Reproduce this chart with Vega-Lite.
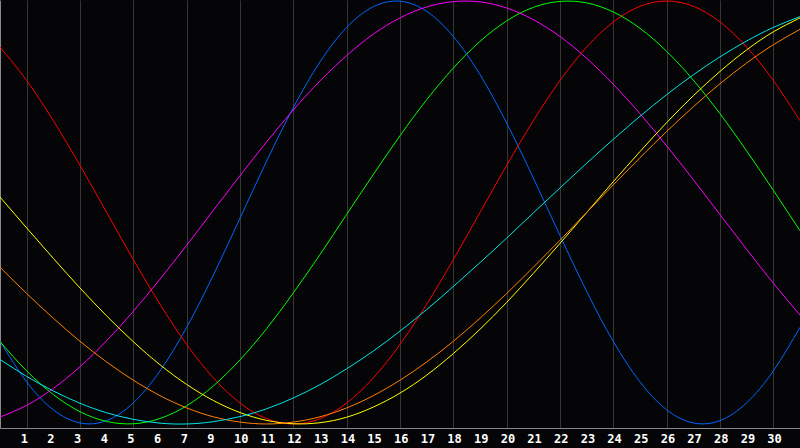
{
  "$schema": "https://vega.github.io/schema/vega-lite/v6.json",
  "description": "Biorhythm curves over 30 days.",
  "width": 800,
  "height": 428,
  "autosize": {"type": "none"},
  "padding": {"left": 0, "top": 0, "right": 0, "bottom": 20},
  "background": "#050508",
  "config": {"view": {"stroke": null}},
  "datasets": {
    "curves": [
      {"c":0,"v":-0.609,"s":"Physical"},{"c":1,"v":-0.801,"s":"Physical"},{"c":2,"v":-0.933,"s":"Physical"},{"c":3,"v":-0.995,"s":"Physical"},{"c":4,"v":-0.984,"s":"Physical"},{"c":5,"v":-0.900,"s":"Physical"},{"c":6,"v":-0.749,"s":"Physical"},{"c":7,"v":-0.543,"s":"Physical"},{"c":8,"v":-0.296,"s":"Physical"},{"c":9,"v":-0.027,"s":"Physical"},{"c":10,"v":0.243,"s":"Physical"},{"c":11,"v":0.496,"s":"Physical"},{"c":12,"v":0.712,"s":"Physical"},{"c":13,"v":0.875,"s":"Physical"},{"c":14,"v":0.973,"s":"Physical"},{"c":15,"v":0.999,"s":"Physical"},{"c":16,"v":0.951,"s":"Physical"},{"c":17,"v":0.832,"s":"Physical"},{"c":18,"v":0.652,"s":"Physical"},{"c":19,"v":0.423,"s":"Physical"},{"c":20,"v":0.163,"s":"Physical"},{"c":21,"v":-0.109,"s":"Physical"},{"c":22,"v":-0.373,"s":"Physical"},{"c":23,"v":-0.610,"s":"Physical"},{"c":24,"v":-0.801,"s":"Physical"},{"c":25,"v":-0.933,"s":"Physical"},{"c":26,"v":-0.995,"s":"Physical"},{"c":27,"v":-0.984,"s":"Physical"},{"c":28,"v":-0.900,"s":"Physical"},{"c":29,"v":-0.749,"s":"Physical"},{"c":30,"v":-0.543,"s":"Physical"},
      {"c":0,"v":0.782,"s":"Emotional"},{"c":1,"v":0.624,"s":"Emotional"},{"c":2,"v":0.434,"s":"Emotional"},{"c":3,"v":0.223,"s":"Emotional"},{"c":4,"v":0,"s":"Emotional"},{"c":5,"v":-0.223,"s":"Emotional"},{"c":6,"v":-0.434,"s":"Emotional"},{"c":7,"v":-0.624,"s":"Emotional"},{"c":8,"v":-0.782,"s":"Emotional"},{"c":9,"v":-0.901,"s":"Emotional"},{"c":10,"v":-0.975,"s":"Emotional"},{"c":11,"v":-1,"s":"Emotional"},{"c":12,"v":-0.975,"s":"Emotional"},{"c":13,"v":-0.901,"s":"Emotional"},{"c":14,"v":-0.782,"s":"Emotional"},{"c":15,"v":-0.624,"s":"Emotional"},{"c":16,"v":-0.434,"s":"Emotional"},{"c":17,"v":-0.223,"s":"Emotional"},{"c":18,"v":0,"s":"Emotional"},{"c":19,"v":0.223,"s":"Emotional"},{"c":20,"v":0.434,"s":"Emotional"},{"c":21,"v":0.624,"s":"Emotional"},{"c":22,"v":0.782,"s":"Emotional"},{"c":23,"v":0.901,"s":"Emotional"},{"c":24,"v":0.975,"s":"Emotional"},{"c":25,"v":1,"s":"Emotional"},{"c":26,"v":0.975,"s":"Emotional"},{"c":27,"v":0.901,"s":"Emotional"},{"c":28,"v":0.782,"s":"Emotional"},{"c":29,"v":0.624,"s":"Emotional"},{"c":30,"v":0.434,"s":"Emotional"},
      {"c":0,"v":-0.611,"s":"Intellectual"},{"c":1,"v":-0.749,"s":"Intellectual"},{"c":2,"v":-0.861,"s":"Intellectual"},{"c":3,"v":-0.942,"s":"Intellectual"},{"c":4,"v":-0.988,"s":"Intellectual"},{"c":5,"v":-0.999,"s":"Intellectual"},{"c":6,"v":-0.974,"s":"Intellectual"},{"c":7,"v":-0.914,"s":"Intellectual"},{"c":8,"v":-0.820,"s":"Intellectual"},{"c":9,"v":-0.697,"s":"Intellectual"},{"c":10,"v":-0.549,"s":"Intellectual"},{"c":11,"v":-0.380,"s":"Intellectual"},{"c":12,"v":-0.199,"s":"Intellectual"},{"c":13,"v":-0.009,"s":"Intellectual"},{"c":14,"v":0.180,"s":"Intellectual"},{"c":15,"v":0.363,"s":"Intellectual"},{"c":16,"v":0.533,"s":"Intellectual"},{"c":17,"v":0.683,"s":"Intellectual"},{"c":18,"v":0.809,"s":"Intellectual"},{"c":19,"v":0.906,"s":"Intellectual"},{"c":20,"v":0.970,"s":"Intellectual"},{"c":21,"v":0.998,"s":"Intellectual"},{"c":22,"v":0.991,"s":"Intellectual"},{"c":23,"v":0.948,"s":"Intellectual"},{"c":24,"v":0.871,"s":"Intellectual"},{"c":25,"v":0.762,"s":"Intellectual"},{"c":26,"v":0.626,"s":"Intellectual"},{"c":27,"v":0.467,"s":"Intellectual"},{"c":28,"v":0.291,"s":"Intellectual"},{"c":29,"v":0.105,"s":"Intellectual"},{"c":30,"v":-0.086,"s":"Intellectual"},
      {"c":0,"v":-0.967,"s":"Intuitive"},{"c":1,"v":-0.912,"s":"Intuitive"},{"c":2,"v":-0.832,"s":"Intuitive"},{"c":3,"v":-0.729,"s":"Intuitive"},{"c":4,"v":-0.606,"s":"Intuitive"},{"c":5,"v":-0.467,"s":"Intuitive"},{"c":6,"v":-0.315,"s":"Intuitive"},{"c":7,"v":-0.155,"s":"Intuitive"},{"c":8,"v":0.010,"s":"Intuitive"},{"c":9,"v":0.174,"s":"Intuitive"},{"c":10,"v":0.334,"s":"Intuitive"},{"c":11,"v":0.485,"s":"Intuitive"},{"c":12,"v":0.622,"s":"Intuitive"},{"c":13,"v":0.742,"s":"Intuitive"},{"c":14,"v":0.843,"s":"Intuitive"},{"c":15,"v":0.920,"s":"Intuitive"},{"c":16,"v":0.972,"s":"Intuitive"},{"c":17,"v":0.997,"s":"Intuitive"},{"c":18,"v":0.996,"s":"Intuitive"},{"c":19,"v":0.967,"s":"Intuitive"},{"c":20,"v":0.912,"s":"Intuitive"},{"c":21,"v":0.832,"s":"Intuitive"},{"c":22,"v":0.729,"s":"Intuitive"},{"c":23,"v":0.606,"s":"Intuitive"},{"c":24,"v":0.467,"s":"Intuitive"},{"c":25,"v":0.315,"s":"Intuitive"},{"c":26,"v":0.155,"s":"Intuitive"},{"c":27,"v":-0.010,"s":"Intuitive"},{"c":28,"v":-0.174,"s":"Intuitive"},{"c":29,"v":-0.334,"s":"Intuitive"},{"c":30,"v":-0.485,"s":"Intuitive"},
      {"c":0,"v":0.073,"s":"Aesthetic"},{"c":1,"v":-0.073,"s":"Aesthetic"},{"c":2,"v":-0.217,"s":"Aesthetic"},{"c":3,"v":-0.357,"s":"Aesthetic"},{"c":4,"v":-0.489,"s":"Aesthetic"},{"c":5,"v":-0.611,"s":"Aesthetic"},{"c":6,"v":-0.720,"s":"Aesthetic"},{"c":7,"v":-0.813,"s":"Aesthetic"},{"c":8,"v":-0.889,"s":"Aesthetic"},{"c":9,"v":-0.946,"s":"Aesthetic"},{"c":10,"v":-0.983,"s":"Aesthetic"},{"c":11,"v":-0.999,"s":"Aesthetic"},{"c":12,"v":-0.994,"s":"Aesthetic"},{"c":13,"v":-0.968,"s":"Aesthetic"},{"c":14,"v":-0.920,"s":"Aesthetic"},{"c":15,"v":-0.854,"s":"Aesthetic"},{"c":16,"v":-0.769,"s":"Aesthetic"},{"c":17,"v":-0.667,"s":"Aesthetic"},{"c":18,"v":-0.552,"s":"Aesthetic"},{"c":19,"v":-0.425,"s":"Aesthetic"},{"c":20,"v":-0.288,"s":"Aesthetic"},{"c":21,"v":-0.146,"s":"Aesthetic"},{"c":22,"v":0,"s":"Aesthetic"},{"c":23,"v":0.146,"s":"Aesthetic"},{"c":24,"v":0.288,"s":"Aesthetic"},{"c":25,"v":0.425,"s":"Aesthetic"},{"c":26,"v":0.552,"s":"Aesthetic"},{"c":27,"v":0.667,"s":"Aesthetic"},{"c":28,"v":0.769,"s":"Aesthetic"},{"c":29,"v":0.854,"s":"Aesthetic"},{"c":30,"v":0.920,"s":"Aesthetic"},
      {"c":0,"v":-0.259,"s":"Awareness"},{"c":1,"v":-0.383,"s":"Awareness"},{"c":2,"v":-0.5,"s":"Awareness"},{"c":3,"v":-0.609,"s":"Awareness"},{"c":4,"v":-0.707,"s":"Awareness"},{"c":5,"v":-0.793,"s":"Awareness"},{"c":6,"v":-0.866,"s":"Awareness"},{"c":7,"v":-0.924,"s":"Awareness"},{"c":8,"v":-0.966,"s":"Awareness"},{"c":9,"v":-0.991,"s":"Awareness"},{"c":10,"v":-1,"s":"Awareness"},{"c":11,"v":-0.991,"s":"Awareness"},{"c":12,"v":-0.966,"s":"Awareness"},{"c":13,"v":-0.924,"s":"Awareness"},{"c":14,"v":-0.866,"s":"Awareness"},{"c":15,"v":-0.793,"s":"Awareness"},{"c":16,"v":-0.707,"s":"Awareness"},{"c":17,"v":-0.609,"s":"Awareness"},{"c":18,"v":-0.5,"s":"Awareness"},{"c":19,"v":-0.383,"s":"Awareness"},{"c":20,"v":-0.259,"s":"Awareness"},{"c":21,"v":-0.131,"s":"Awareness"},{"c":22,"v":0,"s":"Awareness"},{"c":23,"v":0.131,"s":"Awareness"},{"c":24,"v":0.259,"s":"Awareness"},{"c":25,"v":0.383,"s":"Awareness"},{"c":26,"v":0.5,"s":"Awareness"},{"c":27,"v":0.609,"s":"Awareness"},{"c":28,"v":0.707,"s":"Awareness"},{"c":29,"v":0.793,"s":"Awareness"},{"c":30,"v":0.866,"s":"Awareness"},
      {"c":0,"v":-0.695,"s":"Spiritual"},{"c":1,"v":-0.775,"s":"Spiritual"},{"c":2,"v":-0.844,"s":"Spiritual"},{"c":3,"v":-0.902,"s":"Spiritual"},{"c":4,"v":-0.947,"s":"Spiritual"},{"c":5,"v":-0.978,"s":"Spiritual"},{"c":6,"v":-0.996,"s":"Spiritual"},{"c":7,"v":-1.0,"s":"Spiritual"},{"c":8,"v":-0.989,"s":"Spiritual"},{"c":9,"v":-0.965,"s":"Spiritual"},{"c":10,"v":-0.928,"s":"Spiritual"},{"c":11,"v":-0.877,"s":"Spiritual"},{"c":12,"v":-0.814,"s":"Spiritual"},{"c":13,"v":-0.739,"s":"Spiritual"},{"c":14,"v":-0.655,"s":"Spiritual"},{"c":15,"v":-0.561,"s":"Spiritual"},{"c":16,"v":-0.459,"s":"Spiritual"},{"c":17,"v":-0.350,"s":"Spiritual"},{"c":18,"v":-0.237,"s":"Spiritual"},{"c":19,"v":-0.121,"s":"Spiritual"},{"c":20,"v":-0.002,"s":"Spiritual"},{"c":21,"v":0.116,"s":"Spiritual"},{"c":22,"v":0.233,"s":"Spiritual"},{"c":23,"v":0.346,"s":"Spiritual"},{"c":24,"v":0.455,"s":"Spiritual"},{"c":25,"v":0.557,"s":"Spiritual"},{"c":26,"v":0.651,"s":"Spiritual"},{"c":27,"v":0.736,"s":"Spiritual"},{"c":28,"v":0.811,"s":"Spiritual"},{"c":29,"v":0.875,"s":"Spiritual"},{"c":30,"v":0.926,"s":"Spiritual"}
    ],
    "days": [
      {"c":1,"label":"1"},{"c":2,"label":"2"},{"c":3,"label":"3"},{"c":4,"label":"4"},{"c":5,"label":"5"},{"c":6,"label":"6"},{"c":7,"label":"7"},{"c":8,"label":"9"},{"c":9,"label":"10"},{"c":10,"label":"11"},{"c":11,"label":"12"},{"c":12,"label":"13"},{"c":13,"label":"14"},{"c":14,"label":"15"},{"c":15,"label":"16"},{"c":16,"label":"17"},{"c":17,"label":"18"},{"c":18,"label":"19"},{"c":19,"label":"20"},{"c":20,"label":"21"},{"c":21,"label":"22"},{"c":22,"label":"23"},{"c":23,"label":"24"},{"c":24,"label":"25"},{"c":25,"label":"26"},{"c":26,"label":"27"},{"c":27,"label":"28"},{"c":28,"label":"29"},{"c":29,"label":"30"}
    ]
  },
  "layer": [
    {
      "data": {"name": "curves"},
      "mark": {"type": "line", "strokeWidth": 1, "interpolate": "natural"},
      "encoding": {
        "x": {
          "field": "c",
          "type": "quantitative",
          "scale": {"domain": [0, 30], "nice": false},
          "axis": {
            "title": null,
            "values": [1,2,3,4,5,6,7,8,9,10,11,12,13,14,15,16,17,18,19,20,21,22,23,24,25,26,27,28,29],
            "labels": false,
            "ticks": false,
            "grid": true,
            "gridColor": "#363636",
            "gridWidth": 1,
            "domain": true,
            "domainColor": "#8a8a8a"
          }
        },
        "y": {
          "field": "v",
          "type": "quantitative",
          "scale": {"domain": [-1.019, 1.0047], "nice": false, "zero": false},
          "axis": {
            "title": null,
            "labels": false,
            "ticks": false,
            "grid": false,
            "domain": true,
            "domainColor": "#8a8a8a"
          }
        },
        "color": {
          "field": "s",
          "type": "nominal",
          "scale": {
            "domain": ["Physical", "Emotional", "Intellectual", "Intuitive", "Aesthetic", "Awareness", "Spiritual"],
            "range": ["#0066ff", "#ff0000", "#00ff00", "#ff00ff", "#ffff00", "#ff8000", "#00e6e6"]
          },
          "legend": null
        }
      }
    },
    {
      "mark": {"type": "rule", "color": "#ffffff", "strokeWidth": 1},
      "encoding": {"x": {"datum": 15, "type": "quantitative"}}
    },
    {
      "mark": {"type": "rule", "color": "#ffffff", "strokeWidth": 1},
      "encoding": {"y": {"datum": 0, "type": "quantitative"}}
    },
    {
      "mark": {"type": "rule", "color": "#8a8a8a", "strokeWidth": 1},
      "encoding": {"y": {"datum": 1.0023, "type": "quantitative"}}
    },
    {
      "data": {"name": "days"},
      "mark": {
        "type": "text",
        "align": "left",
        "baseline": "alphabetic",
        "dx": -6,
        "font": "DejaVu Sans Mono",
        "fontSize": 12,
        "fontWeight": "bold",
        "color": "#ffffff"
      },
      "encoding": {
        "x": {"field": "c", "type": "quantitative"},
        "y": {"datum": -1.092, "type": "quantitative"},
        "text": {"field": "label"}
      }
    }
  ]
}
